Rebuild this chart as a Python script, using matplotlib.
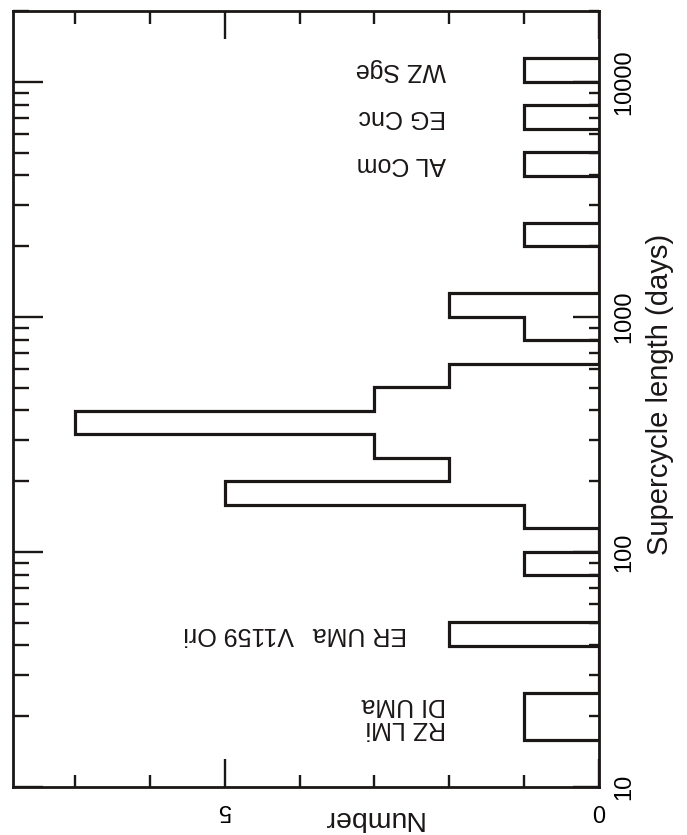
import numpy as np
import matplotlib
matplotlib.use("Agg")
import matplotlib.pyplot as plt
from matplotlib.ticker import LogLocator, FixedLocator, NullFormatter, FixedFormatter

plt.rcParams['font.family'] = ['Liberation Sans', 'DejaVu Sans']

# histogram in 0.1 dex bins of log10(supercycle / days)
log_edges = [1.2, 1.3, 1.4, 1.5, 1.6, 1.7, 1.8, 1.9, 2.0, 2.1,
             2.2, 2.3, 2.4, 2.5, 2.6, 2.7, 2.8, 2.9, 3.0, 3.1,
             3.2, 3.3, 3.4, 3.5, 3.6, 3.7, 3.8, 3.9, 4.0, 4.1]
counts = [1, 1, 0, 0, 2, 0, 0, 1, 0, 1,
          5, 2, 3, 7, 3, 2, 0, 1, 2, 0,
          0, 1, 0, 0, 1, 0, 1, 0, 1]

# star names written next to their bins (supercycle in days)
star_names = ["RZ LMi\nDI UMa", "ER UMa", "V1159 Ori", "AL Com", "EG Cnc", "WZ Sge"]
star_days = [20, 44.7, 44.7, 4470, 7080, 11200]
star_number = [2.05, 2.57, 4.08, 2.05, 2.05, 2.05]

length_ticks = [10, 100, 1000, 10000]
number_ticks = [0, 5]

edges = 10 ** np.array(log_edges)
ink = '#1a1716'

fig = plt.figure(figsize=(6.87, 8.35), dpi=100)
ax = fig.add_axes([13 / 687, 48 / 835, 586 / 687, 776 / 835])

ax.stairs(counts, edges, orientation='horizontal', baseline=0,
          fill=False, color=ink, lw=2.3)

ax.set_yscale('log')
ax.set_ylim(10, 20000)
ax.set_xlim(7.83, 0)

for s in ax.spines.values():
    s.set_linewidth(2.0)
    s.set_color(ink)

# number axis: ticks on bottom and top
ax.xaxis.set_major_locator(FixedLocator(number_ticks))
ax.xaxis.set_minor_locator(FixedLocator([1, 2, 3, 4, 6, 7]))
ax.xaxis.set_major_formatter(FixedFormatter([str(t) for t in number_ticks]))
ax.tick_params(axis='x', which='both', direction='in', top=True, bottom=True,
               width=1.7, color=ink)
ax.tick_params(axis='x', which='major', length=20, pad=9, labelsize=17,
               labelrotation=180)
ax.tick_params(axis='x', which='minor', length=9)

# left side: log ticks without labels
ax.yaxis.set_major_locator(LogLocator(base=10))
ax.yaxis.set_minor_locator(LogLocator(base=10, subs=np.arange(2, 10)))
ax.yaxis.set_major_formatter(NullFormatter())
ax.yaxis.set_minor_formatter(NullFormatter())
ax.tick_params(axis='y', which='both', direction='in', left=True, right=False,
               width=1.7, color=ink)
ax.tick_params(axis='y', which='major', length=21.5)
ax.tick_params(axis='y', which='minor', length=11.5)

# right side: shorter ticks and the labels
ax2 = ax.twinx()
ax2.set_yscale('log')
ax2.set_ylim(ax.get_ylim())
ax2.yaxis.set_major_locator(FixedLocator(length_ticks))
ax2.yaxis.set_minor_locator(LogLocator(base=10, subs=np.arange(2, 10)))
ax2.yaxis.set_major_formatter(FixedFormatter([str(t) for t in length_ticks]))
ax2.yaxis.set_minor_formatter(NullFormatter())
ax2.tick_params(axis='y', which='both', direction='in', width=1.7, color=ink)
ax2.tick_params(axis='y', which='major', length=19, pad=10, labelsize=17,
                labelrotation=90)
ax2.tick_params(axis='y', which='minor', length=7)
for lab in ax2.get_yticklabels():
    lab.set_va('center')
for s in ax2.spines.values():
    s.set_visible(False)

for name, d, n in zip(star_names, star_days, star_number):
    ax.text(n, d, name, rotation=180, ha='right', va='center', fontsize=18,
            linespacing=0.95, multialignment='left', color=ink)

fig.text(660 / 687, 1 - 394 / 835, "Supercycle length (days)", rotation=90,
         ha='center', va='center', fontsize=21, color=ink)
fig.text(372 / 687, 1 - 818 / 835, "Number", rotation=180,
         ha='center', va='center', fontsize=20.5, color=ink)

fig.savefig("out.png", dpi=100)
